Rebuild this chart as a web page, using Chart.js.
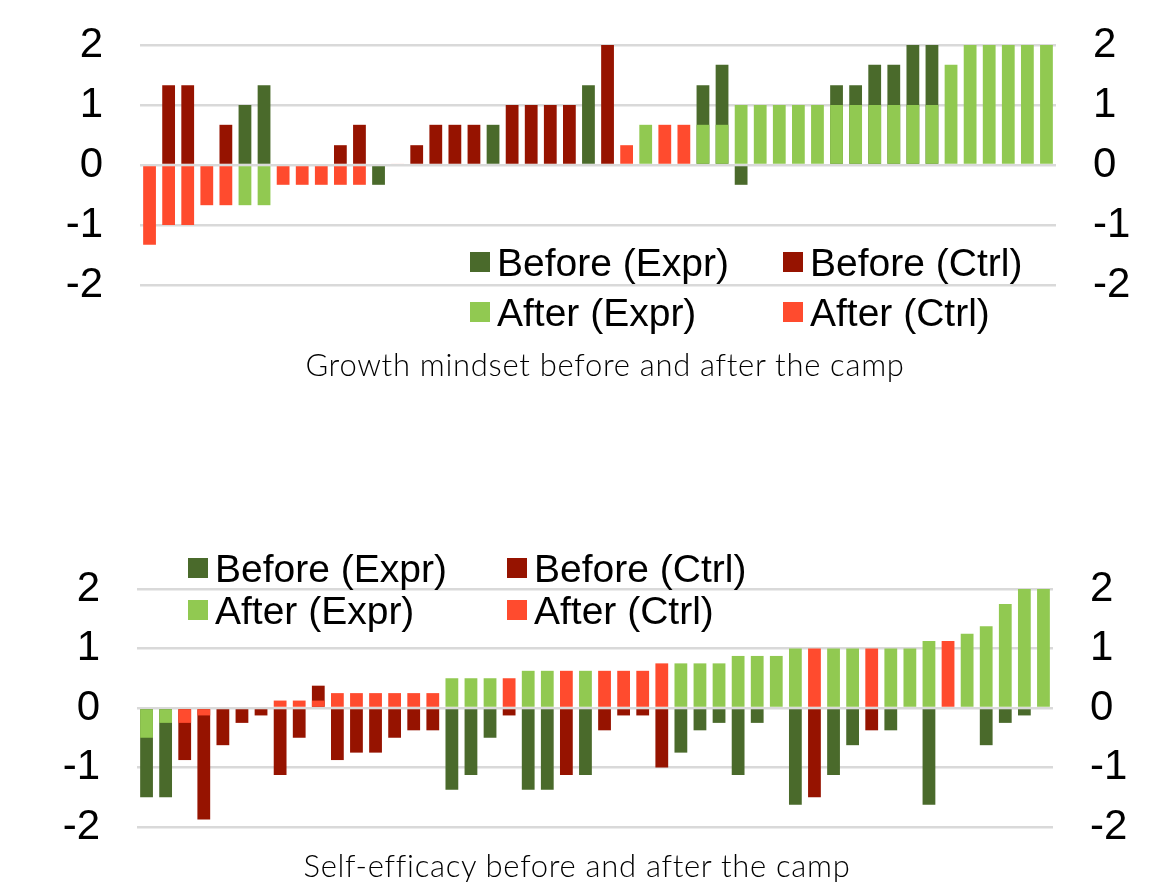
<!DOCTYPE html>
<html>
<head>
<meta charset="utf-8">
<script src="https://cdn.jsdelivr.net/npm/chart.js@4.4.1/dist/chart.umd.min.js"></script>
<style>
html,body{margin:0;padding:0;background:#fff;}
body{width:1160px;height:882px;overflow:hidden;position:relative;}
canvas{position:absolute;left:0;}
.leg{position:absolute;height:40px;display:flex;align-items:center;font-family:"Liberation Sans",Arial,sans-serif;font-size:39px;color:#000;white-space:nowrap;line-height:1;}
.leg i{display:inline-block;width:20px;height:20px;margin-right:7px;}
.title{position:absolute;left:0;width:1160px;text-align:center;font-family:Lato,"Open Sans",sans-serif;font-weight:300;font-size:31px;letter-spacing:0.7px;color:#000;white-space:nowrap;line-height:1;}
</style>
</head>
<body>
<canvas id="c1" width="1160" height="440" style="top:0"></canvas>
<canvas id="c2" width="1160" height="442" style="top:440px"></canvas>

<div class="leg" style="left:470px;top:242px"><i style="background:#4a6a2b"></i>Before (Expr)</div>
<div class="leg" style="left:783px;top:242px"><i style="background:#961300"></i>Before (Ctrl)</div>
<div class="leg" style="left:470px;top:292px"><i style="background:#91c951"></i>After (Expr)</div>
<div class="leg" style="left:783px;top:292px"><i style="background:#ff4b2e"></i>After (Ctrl)</div>
<div class="title" id="t1" style="top:349px;margin-left:25px">Growth mindset before and after the camp</div>

<div class="leg" style="left:188px;top:548px"><i style="background:#4a6a2b"></i>Before (Expr)</div>
<div class="leg" style="left:507px;top:548px"><i style="background:#961300"></i>Before (Ctrl)</div>
<div class="leg" style="left:188px;top:590px"><i style="background:#91c951"></i>After (Expr)</div>
<div class="leg" style="left:507px;top:590px"><i style="background:#ff4b2e"></i>After (Ctrl)</div>
<div class="title" id="t2" style="top:850px;margin-left:-3px">Self-efficacy before and after the camp</div>

<script>
// ---- Data ----
const seriesNames = ['Before (Expr)', 'Before (Ctrl)', 'After (Expr)', 'After (Ctrl)'];
const yTicks = [-2, -1, 0, 1, 2];

// Growth mindset (48 participants, sorted by "after")
const gmGroup = ['C','C','C','C','C','E','E','C','C','C','C','C','E','C','C','C',
                 'C','C','E','C','C','C','C','E','C','C','E','C','C','E','E','E',
                 'E','E','E','E','E','E','E','E','E','E','E','E','E','E','E','E'];
const gmBefore = [0, 1.33, 1.33, 0, 0.67, 1, 1.33, 0, 0, 0, 0.33, 0.67, -0.33, 0, 0.33, 0.67,
                  0.67, 0.67, 0.67, 1, 1, 1, 1, 1.33, 2, 0, 0, 0, 0, 1.33, 1.67, -0.33,
                  0, 0, 0, 0, 1.33, 1.33, 1.67, 1.67, 2, 2, 0, 0, 0, 0, 0, 0];
const gmAfter = [-1.33, -1, -1, -0.67, -0.67, -0.67, -0.67, -0.33, -0.33, -0.33, -0.33, -0.33, 0, 0.02, 0, 0,
                 0, 0, 0, 0, 0, 0, 0, 0, 0, 0.33, 0.67, 0.67, 0.67, 0.67, 0.67, 1,
                 1, 1, 1, 1, 1, 1, 1, 1, 1, 1, 1.67, 2, 2, 2, 2, 2];

// Self-efficacy (48 participants, sorted by "after")
const seGroup = ['E','E','C','C','C','C','C','C','C','C','C','C','C','C','C','C',
                 'E','E','E','C','E','E','C','E','C','C','C','C','E','E','E','E',
                 'E','E','E','C','E','E','C','E','E','E','C','E','E','E','E','E'];
const seBefore = [-1.5, -1.5, -0.875, -1.875, -0.625, -0.25, -0.125, -1.125, -0.5, 0.375, -0.875, -0.75, -0.75, -0.5, -0.375, -0.375,
                  -1.375, -1.125, -0.5, -0.125, -1.375, -1.375, -1.125, -1.125, -0.375, -0.125, -0.125, -1, -0.75, -0.375, -0.25, -1.125,
                  -0.25, 0, -1.625, -1.5, -1.125, -0.625, -0.375, -0.375, 0, -1.625, 0, 0, -0.625, -0.25, -0.125, 0];
const seAfter = [-0.5, -0.25, -0.25, -0.125, 0, 0, 0, 0.125, 0.125, 0.125, 0.25, 0.25, 0.25, 0.25, 0.25, 0.25,
                 0.5, 0.5, 0.5, 0.5, 0.625, 0.625, 0.625, 0.625, 0.625, 0.625, 0.625, 0.75, 0.75, 0.75, 0.75, 0.875,
                 0.875, 0.875, 1, 1, 1, 1, 1, 1, 1, 1.125, 1.125, 1.25, 1.375, 1.75, 2, 2];

const colors = { 'Before (Expr)': '#4a6a2b', 'Before (Ctrl)': '#961300', 'After (Expr)': '#91c951', 'After (Ctrl)': '#ff4b2e' };

function pick(vals, group, g) { return vals.map((v, i) => group[i] === g ? v : null); }

function buildDatasets(group, before, after) {
  return [
    { label: seriesNames[0], data: pick(before, group, 'E'), order: 2 },
    { label: seriesNames[1], data: pick(before, group, 'C'), order: 2 },
    { label: seriesNames[2], data: pick(after, group, 'E'), order: 1 },
    { label: seriesNames[3], data: pick(after, group, 'C'), order: 1 }
  ].map(d => Object.assign(d, {
    backgroundColor: colors[d.label], borderWidth: 0, grouped: false,
    barPercentage: 0.67, categoryPercentage: 1
  }));
}

function makeChart(id, group, before, after, pad, leftW, rightW) {
  const labels = group.map((g, i) => String(i + 1));
  const tickFont = { family: '"Liberation Sans", Arial, sans-serif', size: 42 };
  const fitFn = w => s => { s.width = w; s.paddingTop = 0; s.paddingBottom = 0; };
  const yCommon = {
    min: yTicks[0], max: yTicks[yTicks.length - 1],
    afterBuildTicks: s => { s.ticks = yTicks.map(v => ({ value: v })); },
    ticks: { font: tickFont, color: '#000', padding: 37 },
    border: { display: false }
  };
  new Chart(document.getElementById(id), {
    type: 'bar',
    data: { labels, datasets: buildDatasets(group, before, after) },
    options: {
      responsive: false, animation: false, devicePixelRatio: 1,
      layout: { padding: pad },
      plugins: { legend: { display: false }, tooltip: { enabled: false } },
      scales: {
        x: { display: false },
        y: Object.assign({}, yCommon, {
          position: 'left',
          grid: { color: '#d9d9d9', lineWidth: 2.5, drawTicks: false },
          afterFit: fitFn(leftW)
        }),
        y2: Object.assign({}, yCommon, {
          position: 'right',
          grid: { display: true, drawOnChartArea: false, drawTicks: false },
          afterFit: fitFn(rightW)
        })
      }
    }
  });
}

makeChart('c1', gmGroup, gmBefore, gmAfter, { top: 45, bottom: 155, left: 0, right: 0 }, 140, 104);
makeChart('c2', seGroup, seBefore, seAfter, { top: 149, bottom: 55, left: 0, right: 0 }, 137, 107);
</script>
</body>
</html>
